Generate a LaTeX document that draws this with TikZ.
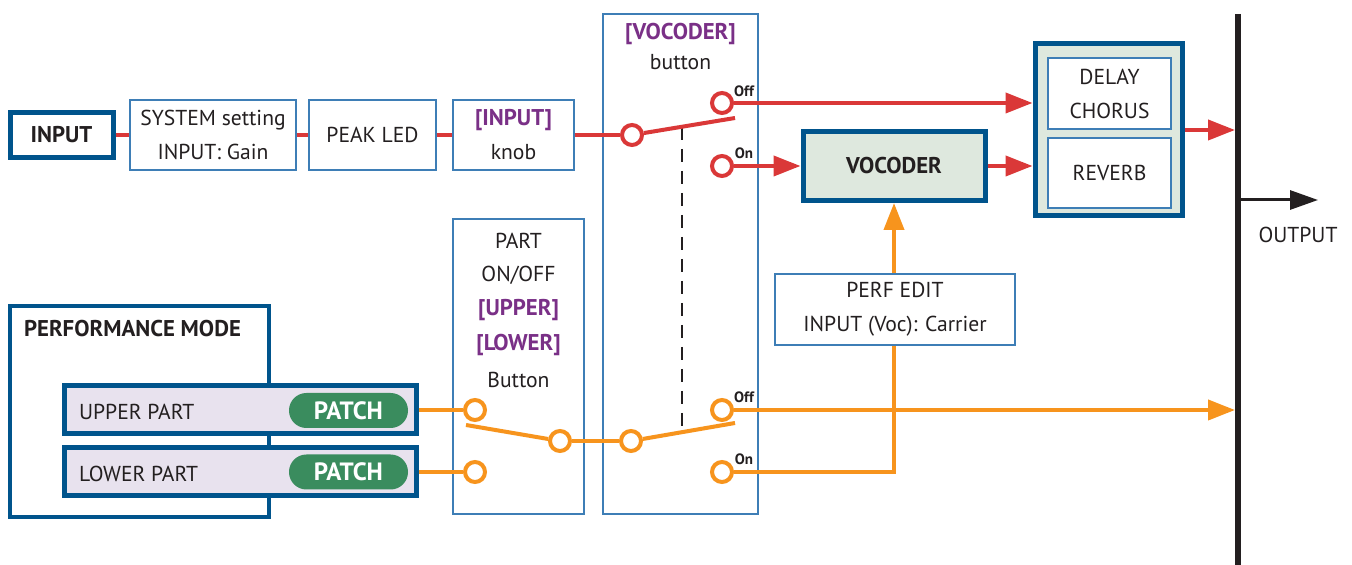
\documentclass[tikz,border=0pt]{standalone}
\usepackage{fontspec}
\setmainfont{PT Sans}
\usetikzlibrary{arrows.meta}
\definecolor{boxblue}{RGB}{0,84,140}
\definecolor{thinblue}{RGB}{62,126,182}
\definecolor{sigred}{RGB}{218,56,56}
\definecolor{sigorange}{RGB}{247,148,29}
\definecolor{keypurple}{RGB}{122,48,135}
\definecolor{patchgreen}{RGB}{58,140,94}
\definecolor{vocfill}{RGB}{222,232,222}
\definecolor{partfill}{RGB}{232,226,238}
\definecolor{ink}{RGB}{35,31,32}
\begin{document}
\begin{tikzpicture}[x=0.5pt,y=-0.5pt,
    font=\fontsize{10.8}{17}\selectfont, text=ink,
    bold/.style={font=\fontsize{11.4}{17}\selectfont\bfseries},
    thin box/.style={draw=thinblue,line width=0.7pt,fill=white,align=center,inner sep=0pt},
    thick box/.style={draw=boxblue,line width=2.5pt,inner sep=0pt,align=center},
    jack/.style={circle,draw,fill=white,line width=2pt,minimum size=10pt,inner sep=0pt},
    red wire/.style={draw=sigred,line width=2pt},
    orange wire/.style={draw=sigorange,line width=2pt},
    tip/.style={-{Triangle[length=13.5pt,width=10pt]}},
    key/.style={bold,text=keypurple},
    tag/.style={font=\fontsize{7.5}{8}\selectfont\bfseries,inner sep=0pt},
    patch/.style={fill=patchgreen,rounded corners=8.7pt,minimum width=59.5pt,minimum height=17.5pt,
      text=white,font=\fontsize{12.5}{13}\selectfont\bfseries,inner sep=0pt}]
  \useasboundingbox (0,0) rectangle (1352,565);

  % signal chain boxes
  \node[thick box,bold,minimum width=51.5pt,minimum height=22.5pt] (inp) at (61.5,135) {INPUT};
  \node[thin box,minimum width=83pt,minimum height=35pt] (sys) at (213,135) {SYSTEM setting\\INPUT: Gain};
  \node[thin box,minimum width=63.5pt,minimum height=35pt] (peak) at (372.5,135) {PEAK LED};
  \node[thin box,minimum width=60.5pt,minimum height=35pt] (knob) at (513.5,135) {\textcolor{keypurple}{\fontsize{11.4}{17}\selectfont\bfseries[INPUT]}\\knob};
  \node[thin box,minimum width=77.5pt,minimum height=250pt] (vocbtn) at (680.5,264) {};
  \node[key] (vockey) at (680.5,34) {[VOCODER]};
  \node (voclbl) at (680.5,62) {button};
  \node[thin box,minimum width=65.5pt,minimum height=147.5pt] (partbtn) at (518.5,366.5) {};
  \node (partlbl) at (518.5,241) {PART};
  \node (onofflbl) at (518.5,275) {ON/OFF};
  \node[key] (upkey) at (518.5,310) {[UPPER]};
  \node[key] (lowkey) at (518.5,345) {[LOWER]};
  \node (btnlbl) at (518.5,380) {Button};

  \node[thick box,bold,fill=vocfill,minimum width=91pt,minimum height=34.5pt] (voc) at (894,166) {VOCODER};
  \node[thick box,fill=vocfill,minimum width=73.5pt,minimum height=86pt] (fx) at (1108.5,130) {};
  \node[thin box,minimum width=61.5pt,minimum height=35.5pt] (delay) at (1109.5,93.5) {DELAY\\CHORUS};
  \node[thin box,minimum width=61.5pt,minimum height=35pt] (reverb) at (1109.5,173) {REVERB};

  % performance mode
  \node[thick box,line width=1.8pt,fill=white,minimum width=129.5pt,minimum height=105.5pt] (perf) at (139.5,411.5) {};
  \node[bold,anchor=west] (perflbl) at (17,329) {PERFORMANCE MODE};
  \node[thick box,fill=partfill,minimum width=176pt,minimum height=24pt] (upper) at (240,410) {};
  \node[thick box,fill=partfill,minimum width=176pt,minimum height=24pt] (lower) at (240,472) {};
  \node[anchor=west] (uplbl) at (72,412) {UPPER PART};
  \node[anchor=west] (lowlbl) at (72,474) {LOWER PART};
  \node[patch] (uppatch) at (348.5,410.5) {PATCH};
  \node[patch] (lowpatch) at (348.5,472) {PATCH};

  % switch contacts
  \node[jack,draw=sigred] (sw1) at (632,135) {};
  \node[jack,draw=sigred] (off1) at (722,103) {};
  \node[jack,draw=sigred] (on1) at (722,166) {};
  \node[jack,draw=sigorange] (partin1) at (475,410) {};
  \node[jack,draw=sigorange] (partin2) at (475,472) {};
  \node[jack,draw=sigorange] (mid) at (560,441) {};
  \node[jack,draw=sigorange] (sw2) at (631,441) {};
  \node[jack,draw=sigorange] (off2) at (722,410) {};
  \node[jack,draw=sigorange] (on2) at (722,472) {};
  \node[tag] (offtag1) at (744,91) {Off};
  \node[tag] (ontag1) at (744,153) {On};
  \node[tag] (offtag2) at (744,397) {Off};
  \node[tag] (ontag2) at (744,459) {On};

  \coordinate (lev1) at (735,118);
  \coordinate (lev2) at (735,423);
  \coordinate (lev3) at (466,425);
  \coordinate (dashT) at (682,127);
  \coordinate (dashB) at (682,432);
  \coordinate (busT) at (1238,14);
  \coordinate (busB) at (1238,565);
  \coordinate (outP) at (1238,200);
  \coordinate (outE) at (1318,200);

  % red path
  \draw[red wire] (inp) -- (sys);
  \draw[red wire] (sys) -- (peak);
  \draw[red wire] (peak) -- (knob);
  \draw[red wire] (knob) -- (sw1);
  \draw[ink,line width=1pt,dash pattern=on 6.5pt off 4.5pt] (dashT) -- (dashB);
  \draw[red wire] (sw1) -- (lev1);
  \draw[red wire,tip] (off1) -- (off1 -| fx.west);
  \draw[red wire,tip] (on1) -- (voc.west);
  \draw[red wire,tip] (voc) -- (voc -| fx.west);
  \draw[red wire,tip,shorten >=1.5pt] (fx.east) -- (fx.east -| busT);

  % orange path
  \draw[orange wire] (upper) -- (partin1);
  \draw[orange wire] (lower) -- (partin2);
  \draw[orange wire] (lev3) -- (mid);
  \draw[orange wire] (mid) -- (sw2);
  \draw[orange wire] (sw2) -- (lev2);
  \draw[orange wire,tip,shorten >=1.5pt] (off2) -- (off2 -| busT);
  \draw[orange wire,tip] (on2) -| (voc.south);
  \node[thin box,minimum width=120pt,minimum height=35.5pt] (perfedit) at (895,309.5) {PERF EDIT\\INPUT (Voc): Carrier};

  % output bus
  \draw[ink,line width=3pt] (busT) -- (busB);
  \draw[ink,line width=1.5pt,-{Triangle[length=14pt,width=9.5pt]}] (outP) -- (outE);
  \node (outlbl) at (1298,235) {OUTPUT};
\end{tikzpicture}
\end{document}
